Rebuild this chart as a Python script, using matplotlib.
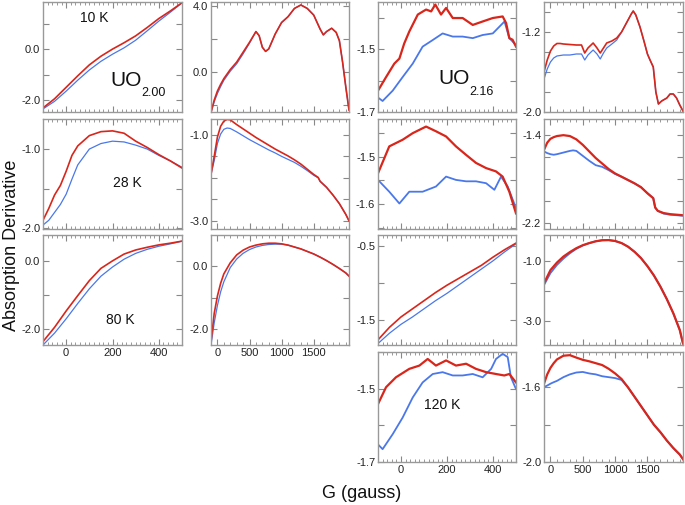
import numpy as np
import matplotlib
matplotlib.use("Agg")
import matplotlib.pyplot as plt
from matplotlib.ticker import MultipleLocator, FixedLocator, FixedFormatter

plt.rcParams['font.family'] = ['Liberation Sans', 'DejaVu Sans']

RED = '#d8261b'
BLUE = '#4a78ea'

# ---------------- UO2.00 ----------------
# 10 K, narrow sweep
x10_n = [-100, -50, 0, 50, 100, 150, 200, 250, 300, 350, 400, 450, 500]
r10_n = [-2.31, -1.95, -1.5, -1.05, -0.62, -0.28, 0.0, 0.25, 0.52, 0.85, 1.2, 1.5, 1.82]
b10_n = [-2.35, -2.05, -1.65, -1.22, -0.82, -0.48, -0.2, 0.05, 0.35, 0.72, 1.1, 1.45, 1.82]

# 10 K, wide sweep
x10_w = [-100, -50, 0, 50, 100, 200, 300, 400, 500, 600, 650, 700, 750, 800, 900, 1000,
         1100, 1200, 1300, 1400, 1500, 1600, 1650, 1700, 1780, 1850, 1900, 1950, 2000, 2050]
r10_w = [-2.45, -1.7, -1.15, -0.75, -0.4, 0.15, 0.6, 1.2, 1.8, 2.45, 2.2, 1.5, 1.25, 1.4,
         2.3, 3.0, 3.35, 3.85, 4.06, 3.85, 3.45, 2.6, 2.25, 2.45, 2.65, 2.4, 1.9, 0.6, -0.9, -2.3]
b10_w = [-2.45, -1.8, -1.3, -0.88, -0.5, 0.05, 0.5, 1.1, 1.75, 2.45, 2.2, 1.5, 1.25, 1.4,
         2.3, 3.0, 3.35, 3.85, 4.06, 3.85, 3.45, 2.6, 2.25, 2.45, 2.65, 2.4, 1.9, 0.6, -0.9, -2.3]

# 28 K, narrow sweep
x28_n = [-100, -75, -50, -25, 0, 25, 50, 100, 150, 200, 250, 300, 350, 400, 450, 500]
r28_n = [-1.9, -1.75, -1.58, -1.46, -1.28, -1.08, -0.96, -0.83, -0.78, -0.77, -0.8, -0.9,
         -0.98, -1.07, -1.15, -1.24]
b28_n = [-1.96, -1.9, -1.8, -1.7, -1.57, -1.38, -1.2, -1.0, -0.93, -0.9, -0.91, -0.95,
         -1.0, -1.08, -1.15, -1.23]

# 28 K, wide sweep
x28_w = [-100, -50, 0, 50, 100, 150, 200, 300, 400, 500, 600, 700, 800, 900, 1000, 1100,
         1200, 1300, 1400, 1500, 1570, 1600, 1700, 1800, 1900, 2000, 2050]
r28_w = [-1.92, -1.5, -1.05, -0.8, -0.68, -0.64, -0.65, -0.76, -0.86, -0.96, -1.06, -1.15,
         -1.24, -1.33, -1.41, -1.49, -1.58, -1.68, -1.8, -1.92, -1.99, -2.08, -2.22, -2.4,
         -2.6, -2.85, -3.0]
b28_w = [-1.92, -1.6, -1.2, -0.98, -0.87, -0.84, -0.85, -0.93, -1.02, -1.11, -1.19, -1.27,
         -1.35, -1.42, -1.5, -1.57, -1.64, -1.73, -1.83, -1.94, -2.0, -2.08, -2.22, -2.4,
         -2.6, -2.85, -3.0]

# 80 K, narrow sweep
x80_n = [-100, -50, 0, 50, 100, 150, 200, 250, 300, 350, 400, 450, 500]
r80_n = [-2.37, -1.95, -1.47, -1.02, -0.58, -0.22, 0.0, 0.2, 0.32, 0.4, 0.47, 0.52, 0.58]
b80_n = [-2.47, -2.12, -1.7, -1.25, -0.82, -0.45, -0.18, 0.05, 0.22, 0.34, 0.43, 0.5, 0.58]

# 80 K, wide sweep
x80_w = [-100, -50, 0, 50, 100, 200, 300, 400, 500, 600, 700, 800, 900, 1000, 1100, 1200,
         1300, 1400, 1500, 1600, 1700, 1800, 1900, 2000, 2050]
r80_w = [-2.4, -1.5, -0.95, -0.55, -0.25, 0.1, 0.35, 0.5, 0.6, 0.66, 0.7, 0.72, 0.72, 0.7,
         0.66, 0.6, 0.54, 0.46, 0.38, 0.28, 0.17, 0.05, -0.08, -0.22, -0.32]
b80_w = [-2.5, -1.8, -1.25, -0.82, -0.5, -0.05, 0.22, 0.4, 0.52, 0.6, 0.65, 0.68, 0.69,
         0.69, 0.66, 0.6, 0.54, 0.46, 0.38, 0.28, 0.17, 0.05, -0.08, -0.22, -0.32]

# ---------------- UO2.16 ----------------
# 10 K, narrow sweep
xb10_n = [-100, -65, -29, -7, 14, 36, 73, 109, 131, 149, 174, 196, 225, 268, 312, 355,
          399, 442, 457, 471, 485, 500]
rb10_n = [-1.632, -1.589, -1.546, -1.53, -1.482, -1.444, -1.39, -1.374, -1.38, -1.358,
          -1.39, -1.369, -1.401, -1.401, -1.423, -1.412, -1.401, -1.396, -1.417, -1.465,
          -1.47, -1.492]
xb10_nb = [-100, -80, -36, 7, 51, 94, 138, 181, 225, 268, 312, 355, 399, 450, 471, 500]
bb10_n = [-1.654, -1.665, -1.632, -1.589, -1.546, -1.492, -1.471, -1.45, -1.46, -1.46,
          -1.465, -1.455, -1.45, -1.412, -1.465, -1.487]

# 10 K, wide sweep
xb10_w = [-100, -50, 0, 50, 100, 150, 200, 300, 400, 480, 530, 580, 660, 720, 770, 820,
          870, 950, 1025, 1100, 1150, 1200, 1250, 1280, 1320, 1385, 1450, 1500, 1540, 1590,
          1630, 1670, 1720, 1800, 1850, 1900, 1950, 2000, 2050]
rb10_w = [-1.6, -1.48, -1.39, -1.34, -1.315, -1.315, -1.32, -1.325, -1.33, -1.33, -1.41,
          -1.36, -1.31, -1.36, -1.41, -1.36, -1.31, -1.29, -1.26, -1.2, -1.14, -1.08, -1.02,
          -0.99, -1.03, -1.15, -1.3, -1.42, -1.48, -1.55, -1.8, -1.92, -1.89, -1.86, -1.82,
          -1.82, -1.86, -1.93, -1.99]
bb10_w = [-1.67, -1.57, -1.5, -1.46, -1.44, -1.435, -1.43, -1.43, -1.42, -1.42, -1.48,
          -1.43, -1.38, -1.42, -1.47, -1.41, -1.36, -1.32, -1.28, -1.2, -1.14, -1.08, -1.02,
          -0.99, -1.03, -1.15, -1.3, -1.42, -1.48, -1.55, -1.8, -1.92, -1.89, -1.86, -1.82,
          -1.82, -1.86, -1.93, -1.99]

# 28 K, narrow sweep
xb28_n = [-100, -51, 7, 51, 109, 152, 196, 239, 283, 326, 370, 413, 442, 471, 500]
rb28_n = [-1.535, -1.478, -1.464, -1.45, -1.436, -1.446, -1.457, -1.478, -1.496, -1.513,
          -1.524, -1.531, -1.542, -1.574, -1.62]
xb28_nb = [-100, -51, -7, 36, 94, 152, 196, 239, 283, 326, 370, 406, 435, 464, 500]
bb28_n = [-1.549, -1.574, -1.599, -1.574, -1.574, -1.563, -1.542, -1.549, -1.552, -1.552,
          -1.556, -1.57, -1.542, -1.563, -1.609]

# 28 K, wide sweep
xb28_w = [-100, -50, 0, 50, 100, 200, 300, 350, 400, 500, 600, 700, 800, 900, 1000, 1100,
          1200, 1300, 1400, 1500, 1590, 1620, 1660, 1750, 1850, 1950, 2050]
rb28_w = [-1.536, -1.47, -1.435, -1.42, -1.41, -1.402, -1.41, -1.425, -1.44, -1.49, -1.55,
          -1.61, -1.66, -1.71, -1.75, -1.78, -1.81, -1.84, -1.875, -1.93, -1.975, -2.06,
          -2.09, -2.11, -2.12, -2.125, -2.13]
bb28_w = [-1.55, -1.565, -1.575, -1.58, -1.575, -1.56, -1.545, -1.54, -1.545, -1.59,
          -1.635, -1.675, -1.69, -1.72, -1.755, -1.78, -1.81, -1.84, -1.875, -1.93, -1.975,
          -2.06, -2.09, -2.115, -2.125, -2.13, -2.135]

# 80 K, narrow sweep
xb80_n = [-100, -50, 0, 50, 100, 150, 200, 250, 300, 350, 400, 450, 500]
rb80_n = [-1.77, -1.6, -1.46, -1.35, -1.24, -1.13, -1.03, -0.94, -0.85, -0.76, -0.65,
          -0.55, -0.46]
bb80_n = [-1.82, -1.68, -1.56, -1.46, -1.35, -1.24, -1.14, -1.03, -0.92, -0.81, -0.7,
          -0.58, -0.47]

# 80 K, wide sweep
xb80_w = [-100, 0, 100, 200, 300, 400, 500, 600, 700, 800, 900, 1000, 1100, 1200, 1300,
          1400, 1500, 1600, 1700, 1800, 1900, 2000, 2050]
rb80_w = [-1.74, -1.3, -1.05, -0.85, -0.7, -0.57, -0.47, -0.4, -0.34, -0.305, -0.3, -0.33,
          -0.4, -0.52, -0.69, -0.9, -1.17, -1.48, -1.85, -2.27, -2.74, -3.3, -3.75]
bb80_w = [-1.8, -1.4, -1.13, -0.92, -0.74, -0.59, -0.48, -0.4, -0.34, -0.305, -0.3, -0.33,
          -0.4, -0.52, -0.69, -0.9, -1.17, -1.48, -1.85, -2.27, -2.74, -3.3, -3.75]

# 120 K, narrow sweep
xb120_n = [-100, -65, -22, 36, 80, 116, 152, 196, 239, 283, 326, 370, 413, 449, 471, 500]
rb120_n = [-1.542, -1.496, -1.469, -1.446, -1.437, -1.419, -1.437, -1.423, -1.437, -1.432,
           -1.446, -1.455, -1.46, -1.464, -1.46, -1.483]
xb120_nb = [-100, -80, -36, 7, 51, 94, 138, 181, 225, 268, 312, 355, 392, 413, 442, 464,
            478, 500]
bb120_n = [-1.652, -1.665, -1.624, -1.579, -1.524, -1.483, -1.46, -1.455, -1.464, -1.464,
           -1.46, -1.469, -1.446, -1.419, -1.405, -1.414, -1.469, -1.501]

# 120 K, wide sweep
xb120_w = [-100, -50, 0, 50, 100, 200, 300, 400, 500, 600, 700, 800, 900, 1000, 1100, 1200,
           1300, 1400, 1500, 1600, 1700, 1800, 1900, 2000, 2050]
rb120_w = [-1.58, -1.53, -1.495, -1.47, -1.45, -1.43, -1.427, -1.44, -1.452, -1.46, -1.47,
           -1.48, -1.5, -1.525, -1.555, -1.6, -1.65, -1.7, -1.75, -1.8, -1.84, -1.885,
           -1.925, -1.96, -1.985]
bb120_w = [-1.598, -1.59, -1.58, -1.572, -1.565, -1.545, -1.53, -1.52, -1.517, -1.525,
           -1.53, -1.54, -1.545, -1.55, -1.56, -1.6, -1.65, -1.7, -1.75, -1.8, -1.84,
           -1.885, -1.925, -1.96, -1.985]

# panel table: (col, row, x_red, red, x_blue, blue, ylim, ystep, ylabels, noisy)
panels = [
    (0, 0, x10_n, r10_n, x10_n, b10_n, (-2.47, 1.85), 1.0, [0.0, -2.0], False),
    (1, 0, x10_w, r10_w, x10_w, b10_w, (-2.42, 4.24), 2.0, [4.0, 0.0], False),
    (0, 1, x28_n, r28_n, x28_n, b28_n, (-2.01, -0.62), 0.5, [-1.0, -2.0], False),
    (1, 1, x28_w, r28_w, x28_w, b28_w, (-3.19, -0.63), 0.5, [-1.0, -3.0], False),
    (0, 2, x80_n, r80_n, x80_n, b80_n, (-2.47, 0.76), 1.0, [0.0, -2.0], False),
    (1, 2, x80_w, r80_w, x80_w, b80_w, (-2.5, 0.98), 1.0, [0.0, -2.0], False),
    (2, 0, xb10_n, rb10_n, xb10_nb, bb10_n, (-1.70, -1.35), 0.1, [-1.5, -1.7], True),
    (3, 0, xb10_w, rb10_w, xb10_w, bb10_w, (-2.0, -0.9), 0.2, [-1.2, -2.0], False),
    (2, 1, xb28_n, rb28_n, xb28_nb, bb28_n, (-1.653, -1.42), 0.05, [-1.5, -1.6], True),
    (3, 1, xb28_w, rb28_w, xb28_w, bb28_w, (-2.255, -1.255), 0.2, [-1.4, -2.2], True),
    (2, 2, xb80_n, rb80_n, xb80_n, bb80_n, (-1.84, -0.35), 0.5, [-0.5, -1.5], False),
    (3, 2, xb80_w, rb80_w, xb80_w, bb80_w, (-3.8, -0.13), 1.0, [-1.0, -3.0], True),
    (2, 3, xb120_n, rb120_n, xb120_nb, bb120_n, (-1.70, -1.40), 0.1, [-1.5, -1.7], True),
    (3, 3, xb120_w, rb120_w, xb120_w, bb120_w, (-2.0, -1.41), 0.2, [-1.6, -2.0], True),
]

W, H = 685, 505
col_left = [43, 211, 378, 544]
col_w = [139, 138, 138, 139]
row_top = [2, 119, 235, 352]
row_h = 110

fig = plt.figure(figsize=(W / 100, H / 100), dpi=100)

for col, row, xr, red, xb, blue, ylim, ystep, ylabs, noisy in panels:
    l = col_left[col] / W
    b = 1 - (row_top[row] + row_h) / H
    ax = fig.add_axes([l, b, col_w[col] / W, row_h / H])
    ax.plot(xb, blue, color=BLUE, lw=1.3 if noisy else 0.9)
    ax.plot(xr, red, color=RED, lw=1.6 if noisy else 1.2)

    if col in (1, 3):
        ax.set_xlim(-100, 2050)
        ax.xaxis.set_major_locator(FixedLocator([0, 500, 1000, 1500]))
        ax.xaxis.set_minor_locator(MultipleLocator(100))
    else:
        ax.set_xlim(-100, 500)
        ax.xaxis.set_major_locator(FixedLocator([0, 200, 400]))
        ax.xaxis.set_minor_locator(MultipleLocator(20))
    ax.set_ylim(*ylim)

    lo = np.ceil(ylim[0] / ystep - 1e-6) * ystep
    yt = np.arange(lo, ylim[1] + 1e-9, ystep)
    ax.yaxis.set_major_locator(FixedLocator(yt))
    labels = ['%.1f' % v if any(abs(v - L) < 1e-6 for L in ylabs) else '' for v in yt]
    ax.yaxis.set_major_formatter(FixedFormatter(labels))

    ax.tick_params(which='both', direction='in', top=True, right=True,
                   colors='#888888', labelcolor='#222222', labelsize=8, pad=2)
    ax.tick_params(which='major', length=4, width=0.8)
    ax.tick_params(which='minor', length=2, width=0.6)
    for s in ax.spines.values():
        s.set_color('#999999')
        s.set_linewidth(1.0)

    bottom_row = (row == 2 and col < 2) or row == 3
    if not bottom_row:
        ax.set_xticklabels([])

def put(px, py, txt, size):
    fig.text(px / W, 1 - py / H, txt, fontsize=size, ha='center', va='center', color='#111111')

put(94, 18, '10 K', 10)
put(126, 80, 'UO', 15)
put(154, 93, '2.00', 9)
put(127, 183, '28 K', 10)
put(120, 320, '80 K', 10)
put(454, 78, 'UO', 15)
put(482, 92, '2.16', 9)
put(442, 405, '120 K', 10)

fig.text(12 / W, 1 - 245 / H, 'Absorption Derivative', rotation=90, fontsize=13,
         ha='center', va='center', color='#111111')
fig.text(362 / W, 1 - 493 / H, 'G (gauss)', fontsize=13, ha='center', va='center',
         color='#111111')

fig.savefig('out.png', dpi=100)
